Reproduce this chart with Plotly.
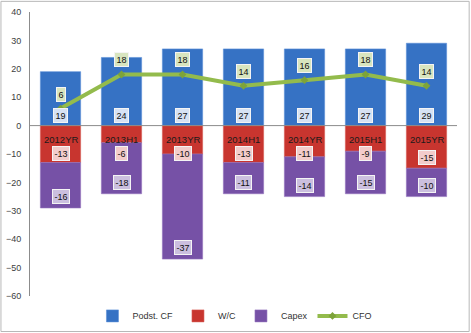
import plotly.graph_objects as go

categories = ["2012YR", "2013H1", "2013YR", "2014H1", "2014YR", "2015H1", "2015YR"]
podst_cf = [19, 24, 27, 27, 27, 27, 29]
wc = [-13, -6, -10, -13, -11, -9, -15]
capex = [-16, -18, -37, -11, -14, -15, -10]
cfo = [6, 18, 18, 14, 16, 18, 14]
y_ticks = [40, 30, 20, 10, 0, -10, -20, -30, -40, -50, -60]

BLUE = "#3672c4"
RED = "#c8352f"
PURPLE = "#7651a6"
GREEN = "#93bb4c"
FONT = "Liberation Sans"

fig = go.Figure()
fig.add_bar(name="Podst. CF", x=categories, y=podst_cf, marker=dict(color=BLUE, line=dict(color="#5a8fd6", width=0.6)))
fig.add_bar(name="W/C", x=categories, y=wc, marker=dict(color=RED, line=dict(color="#d85c56", width=0.6)))
fig.add_bar(name="Capex", x=categories, y=capex, marker=dict(color=PURPLE, line=dict(color="#9474bd", width=0.6)))
fig.add_scatter(name="CFO", x=categories, y=cfo, mode="lines+markers",
                line=dict(color=GREEN, width=4),
                marker=dict(symbol="diamond", size=6, color="#7da33a"))

ann = []
def box(x, y, text, bg, yanchor, yshift):
    ann.append(dict(x=x, y=y, text=text, showarrow=False, xref="x", yref="y",
                    yanchor=yanchor, yshift=yshift, bgcolor=bg, bordercolor="#f4f4f4",
                    borderwidth=1, borderpad=1.5,
                    font=dict(family=FONT, size=9, color="#111111")))

for i, c in enumerate(categories):
    # Podst. CF: inside base
    box(c, 0, str(podst_cf[i]), "#d6e2f4", "bottom", 3)
    # W/C: inside end, kept below the category label
    box(c, min(wc[i], -13.5), str(wc[i]), "#f3cccb", "bottom", 3)
    # Capex: inside end of the stack
    box(c, wc[i] + capex[i], str(capex[i]), "#cbbfdf", "bottom", 4)
    # CFO: above the point
    box(c, cfo[i], str(cfo[i]), "#d8e5bf", "bottom", 7)
    # category label just under the zero line
    ann.append(dict(x=c, y=0, text=c, showarrow=False, xref="x", yref="y",
                    yanchor="top", yshift=-6,
                    font=dict(family=FONT, size=9.5, color="#1a1a1a")))

fig.update_layout(
    width=471, height=333,
    margin=dict(l=30, r=14, t=12, b=37, autoexpand=False),
    barmode="relative", bargap=0.34,
    paper_bgcolor="white", plot_bgcolor="white",
    font=dict(family=FONT, size=9, color="#404040"),
    showlegend=True,
    legend=dict(orientation="h", x=0.48, xanchor="center", y=-0.07, yanchor="middle",
                font=dict(family=FONT, size=9, color="#333333"),
                itemwidth=30, tracegroupgap=0, traceorder="normal"),
    annotations=ann,
    shapes=[
        dict(type="line", xref="paper", yref="y", x0=0, x1=1, y0=0, y1=0,
             line=dict(color="#8c8c8c", width=1), layer="above"),
        dict(type="rect", xref="paper", yref="paper", x0=-0.068, x1=1.0285, y0=-0.125, y1=1.0375,
             line=dict(color="#b8b8b8", width=1)),
    ],
)
fig.update_xaxes(showticklabels=False, showgrid=False, zeroline=False, showline=False,
                 range=[-0.5, 6.5])
fig.update_yaxes(range=[-60, 40], tickvals=y_ticks, showgrid=False, zeroline=False,
                 showline=True, linecolor="#8c8c8c", linewidth=1, ticks="",
                 ticklabelstandoff=6, automargin=False,
                 tickfont=dict(family=FONT, size=9, color="#404040"))

fig.write_html("out.html")
